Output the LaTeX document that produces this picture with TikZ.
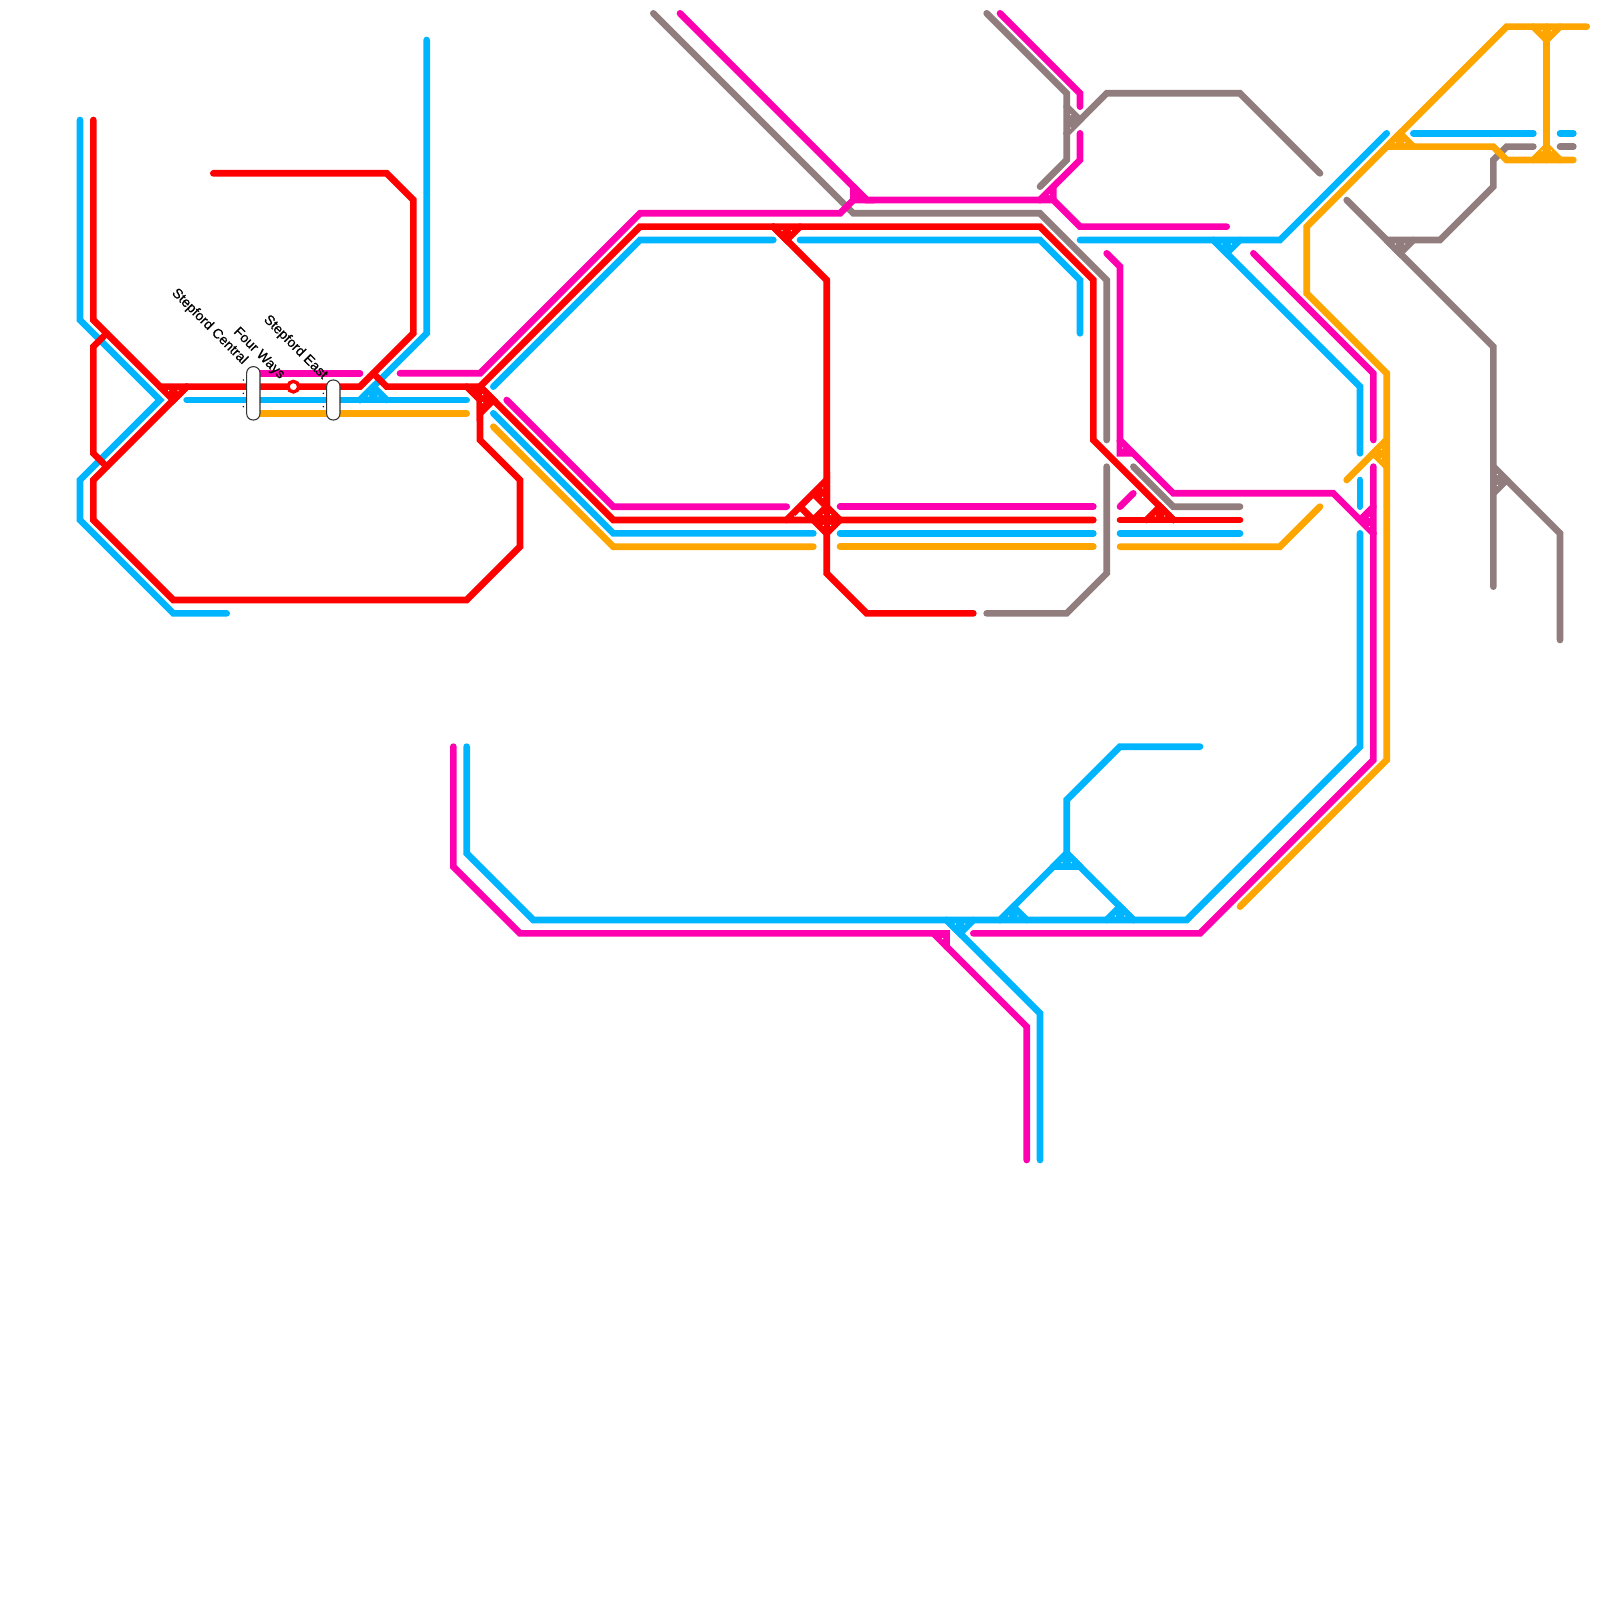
\documentclass[tikz,border=0pt]{standalone}
\usepackage{fontspec}
\setmainfont{Liberation Sans}
\newfontfamily\lblfont[FakeBold=0.6]{Liberation Sans}
\usetikzlibrary{positioning}
\definecolor{linered}{HTML}{FF0000}
\definecolor{linepink}{HTML}{FF00B0}
\definecolor{lineblue}{HTML}{00B5FF}
\definecolor{lineorange}{HTML}{FFA500}
\definecolor{linegrey}{HTML}{917D7D}
\begin{document}
\begin{tikzpicture}[x=0.2cm,y=-0.2cm,line cap=round,line join=miter]
\tikzstyle{rl}=[draw=linered,line width=0.1cm]
\tikzstyle{pl}=[draw=linepink,line width=0.1cm]
\tikzstyle{bl}=[draw=lineblue,line width=0.1cm]
\tikzstyle{ol}=[draw=lineorange,line width=0.1cm]
\tikzstyle{gl}=[draw=linegrey,line width=0.1cm]
\tikzstyle{pill}=[draw=black!80,line width=0.45pt,fill=white,rounded corners=0.095cm,minimum width=0.2cm,inner sep=0pt]
\tikzstyle{lbl}=[font=\lblfont\fontsize{5.9}{7}\selectfont,anchor=east,rotate=-45,inner sep=0pt,text=black]
\useasboundingbox (0,0) rectangle (120,120);
\fill[white] (0,0) rectangle (120,120);
% grey
\draw[gl] (49,1) -- (64,16) -- (78,16) -- (83,21) -- (83,33);
\draw[gl] (74,1) -- (80,7) -- (80,12) -- (78,14);
\draw[gl,fill=linegrey] (80,8) -- (81,9) -- (80,10);
\draw[gl] (80,10) -- (83,7) -- (93,7) -- (99,13);
\draw[gl] (83,35) -- (83,43) -- (80,46) -- (74,46);
\draw[gl] (85,35) -- (88,38) -- (93,38);
\draw[gl] (101,15) -- (112,26) -- (112,44);
\draw[gl] (112,35) -- (117,40) -- (117,48);
\draw[gl,fill=linegrey] (112,35) -- (113,36) -- (112,37);
\draw[gl] (104,18) -- (108,18) -- (112,14) -- (112,12) -- (113,11) -- (115,11);
\draw[gl] (117,11) -- (118,11);
\draw[gl,fill=linegrey] (104,18) -- (105,19) -- (106,18);
% blue
\draw[bl] (6,9) -- (6,24) -- (12,30) -- (6,36) -- (6,39) -- (13,46) -- (17,46);
\draw[bl] (14,30) -- (35,30);
\draw[bl] (32,3) -- (32,25) -- (27,30);
\draw[bl,fill=lineblue] (27,30) -- (28,29) -- (29,30);
\draw[bl] (37,29) -- (48,18) -- (58,18);
\draw[bl] (60,18) -- (78,18) -- (81,21) -- (81,25);
\draw[bl] (37,31) -- (46,40) -- (61,40);
\draw[bl] (63,40) -- (82,40);
\draw[bl] (84,40) -- (93,40);
\draw[bl] (81,18) -- (96,18) -- (104,10);
\draw[bl] (106,10) -- (115,10);
\draw[bl] (117,10) -- (118,10);
\draw[bl] (91,18) -- (102,29) -- (102,34);
\draw[bl,fill=lineblue] (91,18) -- (92,19) -- (93,18);
\draw[bl] (102,36) -- (102,38);
\draw[bl] (102,40) -- (102,56) -- (89,69) -- (40,69) -- (35,64) -- (35,56);
\draw[bl] (71,69) -- (78,76) -- (78,87);
\draw[bl,fill=lineblue] (71,69) -- (72,70) -- (73,69);
\draw[bl] (75,69) -- (80,64) -- (85,69);
\draw[bl,fill=lineblue] (75,69) -- (76,68) -- (77,69);
\draw[bl,fill=lineblue] (83,69) -- (84,68) -- (85,69);
\draw[bl,fill=lineblue] (79,65) -- (80,64) -- (81,65);
\draw[bl] (79,65) -- (81,65);
\draw[bl] (80,64) -- (80,60) -- (84,56) -- (90,56);
% orange
\draw[ol] (19,31) -- (35,31);
\draw[ol] (37,32) -- (46,41) -- (61,41);
\draw[ol] (63,41) -- (82,41);
\draw[ol] (84,41) -- (96,41) -- (99,38);
\draw[ol] (93,68) -- (104,57) -- (104,28) -- (98,22) -- (98,17) -- (113,2) -- (119,2);
\draw[ol] (104,11) -- (112,11) -- (113,12) -- (118,12);
\draw[ol,fill=lineorange] (104,11) -- (105,10) -- (106,11);
\draw[ol] (116,2) -- (116,12);
\draw[ol,fill=lineorange] (115,2) -- (116,3) -- (117,2);
\draw[ol,fill=lineorange] (115,12) -- (116,11) -- (117,12);
\draw[ol] (101,36) -- (104,33);
\draw[ol,fill=lineorange] (104,33) -- (103,34) -- (104,35);
% pink
\draw[pl] (51,1) -- (64,14) -- (64,15) -- (63,16) -- (48,16) -- (36,28) -- (30,28);
\draw[pl] (64,14) -- (65,15) -- (79,15) -- (81,17) -- (92,17);
\draw[pl,fill=linepink] (64,14) -- (65,15) -- (64,15);
\draw[pl] (81,10) -- (81,12) -- (78,15);
\draw[pl,fill=linepink] (78,15) -- (79,14) -- (79,15);
\draw[pl] (75,1) -- (81,7) -- (81,8);
\draw[pl] (83,19) -- (84,20) -- (84,33) -- (88,37) -- (100,37) -- (103,40);
\fill[linepink] (83.75,33) -- (84,33) -- (85.3,34.25) -- (83.75,34.25) -- cycle;
\draw[pl] (94,19) -- (103,28) -- (103,33);
\draw[pl] (103,35) -- (103,57) -- (90,70) -- (73,70);
\draw[pl,fill=linepink] (103,38) -- (102,39) -- (103,40);
\draw[pl] (34,56) -- (34,65) -- (39,70) -- (70,70) -- (77,77) -- (77,87);
\draw[pl,fill=linepink] (70,70) -- (71,70) -- (71,71);
\draw[pl] (38,30) -- (46,38) -- (59,38);
\draw[pl] (63,38) -- (82,38);
\draw[pl] (84,38) -- (85,37);
\draw[pl] (19,28) -- (27,28);
% red
\draw[rl] (7,9) -- (7,24) -- (12,29) -- (27,29) -- (31,25) -- (31,15) -- (29,13) -- (16,13);
\draw[rl] (28,28) -- (29,29) -- (36,29) -- (46,39) -- (82,39);
\draw[rl] (36,29) -- (48,17) -- (78,17) -- (82,21) -- (82,33) -- (88,39);
\draw[rl] (84,39) -- (93,39);
\draw[rl,fill=linered] (86,39) -- (87,38) -- (88,39);
\draw[rl] (58,17) -- (62,21) -- (62,43) -- (65,46) -- (73,46);
\draw[rl,fill=linered] (58,17) -- (59,18) -- (60,17);
\draw[rl] (36,29) -- (36,33) -- (39,36) -- (39,41) -- (35,45) -- (13,45) -- (7,39) -- (7,36) -- (14,29);
\draw[rl,fill=linered] (12,29) -- (13,30) -- (14,29);
\draw[rl,fill=linered] (35,29) -- (36,30) -- (36,31) -- (37,30) -- (36,29);
\draw[rl] (8,25) -- (7,26) -- (7,34) -- (8,35);
\draw[rl,fill=linered] (59,39) -- (62,36) -- (62,38) -- (63,39) -- (62,40) -- (60,38);
\fill[white] (60.38,38) -- (61,37.38) -- (61.62,38) -- (61,38.62) -- cycle;
% specks left in the junctions
\foreach \x/\y in {27.65/29.7,28.35/29.7,75.65/68.7,76.35/68.7,83.65/68.7,84.35/68.7,79.65/64.7,80.35/64.7,104.65/10.7,105.35/10.7,115.65/11.3,116.35/11.3,86.65/38.7,87.35/38.7,12.65/29.3,13.35/29.3,58.65/17.3,59.35/17.3,91.65/18.3,92.35/18.3,71.65/69.3,72.35/69.3,115.65/2.3,116.35/2.3,104.65/18.3,105.35/18.3,112.3/35.6,112.3/36.4,103.6/33.7,103.6/34.4,102.7/38.8,102.7/39.5,80.3/8.6,80.3/9.6,84.2/33.6,78.7/14.6,70.7/70.4,36.2/29.6,36.2/30.2,59.6/38.7,60.2/38.7,61.7/36.6,61.7/37.3,61.75/38.6,62.3/38.6,61.75/39.4,62.3/39.4}
  \fill[white] (\x,\y) circle (0.01cm);
% stations
\node[pill,minimum height=0.8cm] (central) at (19,29.5) {};
\node[pill,minimum height=0.6cm] (east) at (25,30) {};
\node[circle,draw=linered,line width=0.05cm,fill=white,minimum size=0.16cm,inner sep=0pt] (fourways) at (22,29) {};
\foreach \y in {28.5,29.5,30.5} \fill (18.25,\y) circle (0.012cm);
\foreach \y in {29.5,30.5} \fill (24.25,\y) circle (0.012cm);
\node[lbl] (lcentral) at (18.4,27.2) {Stepford Central};
\node[lbl] (lfour) at (21.2,28.3) {Four Ways};
\node[lbl] (least) at (24.4,28.3) {Stepford East};
\end{tikzpicture}
\end{document}
